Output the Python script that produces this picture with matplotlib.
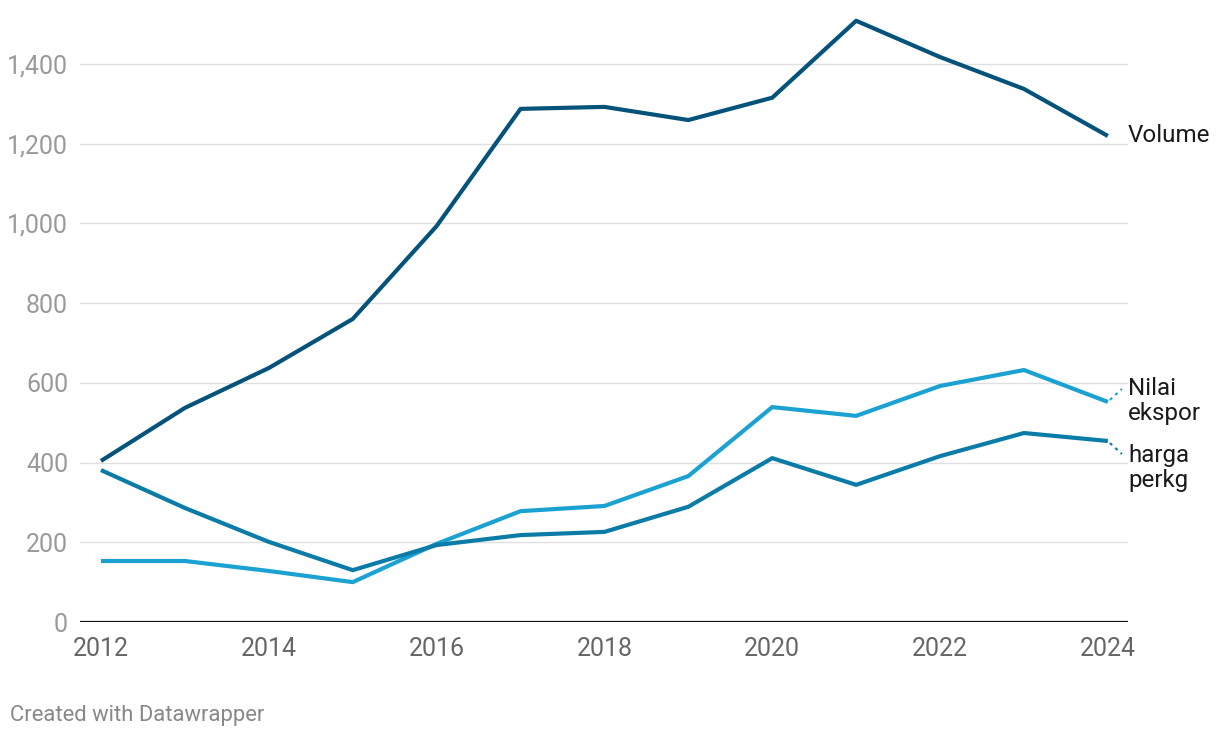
import matplotlib
matplotlib.use("Agg")
import matplotlib.pyplot as plt
from matplotlib.ticker import FuncFormatter

plt.rcParams['font.family'] = ['Roboto', 'DejaVu Sans']

years = list(range(2012, 2025))
volume = [404, 537, 637, 760, 993, 1287, 1292, 1259, 1315, 1508, 1417, 1337, 1219]
nilai_ekspor = [153, 153, 128, 100, 196, 278, 291, 366, 539, 517, 592, 632, 552]
harga_perkg = [381, 286, 201, 130, 193, 218, 226, 289, 411, 344, 416, 474, 454]

series_names = ["Volume", "Nilai\nekspor", "harga\nperkg"]
colors = ["#05537a", "#1ba2d2", "#0b7ca7"]

fig = plt.figure(figsize=(12.2, 7.38), dpi=100)
ax = fig.add_axes([80/1220, 1-622/738, (1128-80)/1220, (622-10)/738])
ax.set_xlim(2011.75, 2024.24)
ax.set_ylim(0, 1535)

for v in range(200, 1401, 200):
    ax.axhline(v, color="#e0e0e0", lw=1, zorder=0)
ax.axhline(0, color="#111111", lw=1.6, zorder=3)

for data, c in zip([volume, nilai_ekspor, harga_perkg], colors):
    ax.plot(years, data, color=c, lw=3, solid_capstyle='butt', solid_joinstyle='round', zorder=4)

for s in ax.spines.values():
    s.set_visible(False)

ax.set_yticks(range(0, 1401, 200))
ax.yaxis.set_major_formatter(FuncFormatter(lambda v, p: f"{int(v):,}"))
ax.set_xticks(range(2012, 2025, 2))
ax.tick_params(axis='both', length=0)
ax.tick_params(axis='y', labelsize=18, labelcolor="#9a9a9a", pad=8.6)
ax.tick_params(axis='x', labelsize=18, labelcolor="#666666", pad=11)

# labels
lab_kw = dict(transform=fig.transFigure, fontsize=17.4, color="#1a1a1a",
              va='center', ha='left', linespacing=1.12)
ax.text(1128/1220, 1-136/738, series_names[0], **lab_kw)
ax.text(1128/1220, 1-401/738, series_names[1], **lab_kw)
ax.text(1128/1220, 1-468/738, series_names[2], **lab_kw)

# dotted connectors
for val, c, dy in [(nilai_ekspor[-1], colors[1], 13), (harga_perkg[-1], colors[2], -13)]:
    x0, y0 = ax.transData.transform((years[-1], val))
    line = plt.Line2D([x0 + 2, x0 + 14], [y0 + (2 if dy > 0 else -2), y0 + dy],
                      transform=None, color=c, lw=1.5, ls=(0, (1.5, 2)))
    fig.add_artist(line)

fig.text(10/1220, 1-715/738, "Created with Datawrapper", fontsize=15.8, color="#888888",
         va='center', ha='left')

fig.savefig("out.png", dpi=100)
